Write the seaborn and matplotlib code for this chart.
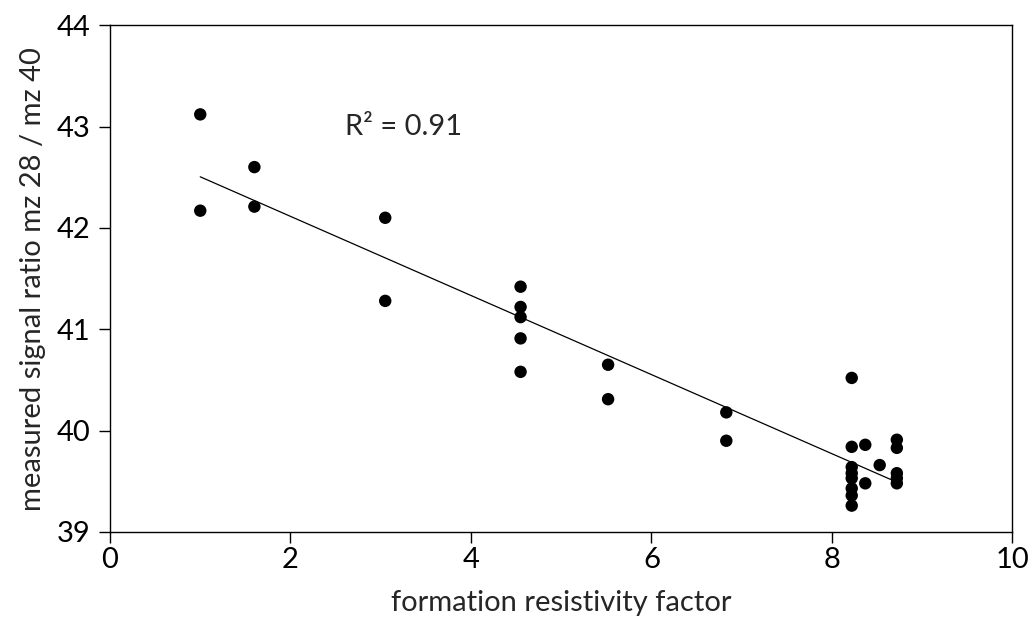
import numpy as np
import pandas as pd
import matplotlib
matplotlib.use("Agg")
import matplotlib.pyplot as plt
import seaborn as sns

resistivity = [1.0, 1.0,
               1.6, 1.6,
               3.05, 3.05,
               4.55, 4.55, 4.55, 4.55, 4.55,
               5.52, 5.52,
               6.83, 6.83,
               8.22, 8.22, 8.22, 8.22, 8.22, 8.22, 8.22, 8.22,
               8.37, 8.37,
               8.53,
               8.72, 8.72, 8.72, 8.72, 8.72]
signal_ratio = [43.12, 42.17,
                42.60, 42.21,
                42.10, 41.28,
                41.42, 41.22, 41.12, 40.91, 40.58,
                40.65, 40.31,
                40.18, 39.90,
                40.52, 39.84, 39.64, 39.58, 39.53, 39.43, 39.36, 39.26,
                39.86, 39.48,
                39.66,
                39.91, 39.83, 39.58, 39.53, 39.48]

df = pd.DataFrame({"x": resistivity, "y": signal_ratio})

sns.set_theme(style="ticks")
plt.rcParams['font.family'] = ['Lato', 'DejaVu Sans']

fig = plt.figure(figsize=(10.33, 6.3), dpi=100)
ax = fig.add_axes([0.1065, 0.1556, 0.8735, 0.8044])

sns.regplot(data=df, x="x", y="y", ax=ax, ci=None, truncate=True,
            scatter_kws=dict(s=80, color="black", edgecolor="none", alpha=1),
            line_kws=dict(color="black", linewidth=0.9))

ax.set_xlim(0, 10)
ax.set_ylim(39, 44)
ax.set_xticks([0, 2, 4, 6, 8, 10])
ax.set_yticks([39, 40, 41, 42, 43, 44])
for s in ["top", "right", "left", "bottom"]:
    ax.spines[s].set_visible(True)
    ax.spines[s].set_color("black")
    ax.spines[s].set_linewidth(1.0)
ax.tick_params(axis="both", direction="out", length=8, width=1, labelsize=21,
               colors="black", top=False, right=False)
ax.tick_params(axis="x", pad=3)
ax.tick_params(axis="y", pad=6)
ax.set_xlabel("formation resistivity factor", fontsize=21, labelpad=12)
ax.set_ylabel("measured signal ratio mz 28 / mz 40", fontsize=21, labelpad=8)
ax.text(2.6, 43.0, "R\u00b2 = 0.91", fontsize=21, va="center", ha="left")

fig.savefig("out.png", dpi=100)
